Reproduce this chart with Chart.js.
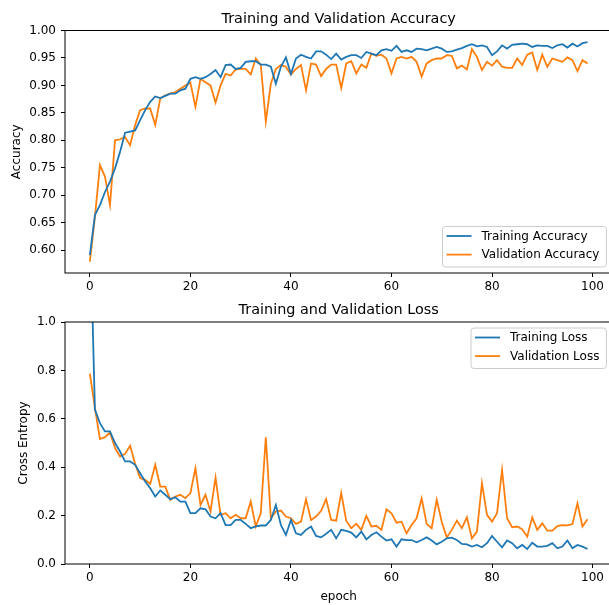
<!DOCTYPE html>
<html><head><meta charset="utf-8">
<script src="https://cdn.jsdelivr.net/npm/chart.js@4.4.0/dist/chart.umd.min.js"></script>
<style>
html,body{margin:0;padding:0;overflow:hidden;background:#fff;width:609px;height:605px;}
#wrap{position:relative;width:609px;height:605px;overflow:hidden;}
#c1{position:absolute;left:0;top:0;}
#c2{position:absolute;left:0;top:300px;}
</style></head><body>
<div id="wrap">
<canvas id="c1" width="620" height="300"></canvas>
<canvas id="c2" width="620" height="305"></canvas>
</div>
<script>
const epochs = Array.from({length:100}, (_, i) => i);
const epochTicks = [0, 20, 40, 60, 80, 100];
const accTicks = [0.60, 0.65, 0.70, 0.75, 0.80, 0.85, 0.90, 0.95, 1.00];
const lossTicks = [0.0, 0.2, 0.4, 0.6, 0.8, 1.0];

const trainAcc = [
0.591,0.664,0.682,0.706,0.725,0.749,0.779,0.814,0.816,0.818,
0.837,0.855,0.870,0.880,0.877,0.881,0.885,0.885,0.891,0.894,
0.912,0.915,0.912,0.915,0.921,0.928,0.915,0.937,0.938,0.930,
0.932,0.943,0.944,0.944,0.938,0.938,0.934,0.903,0.934,0.951,
0.921,0.949,0.956,0.952,0.949,0.962,0.962,0.956,0.948,0.958,
0.947,0.952,0.955,0.955,0.950,0.961,0.958,0.955,0.964,0.966,
0.963,0.972,0.961,0.964,0.961,0.967,0.966,0.964,0.967,0.970,
0.967,0.961,0.962,0.965,0.968,0.972,0.975,0.971,0.973,0.970,
0.955,0.962,0.973,0.967,0.974,0.975,0.976,0.975,0.970,0.973,
0.972,0.972,0.968,0.973,0.975,0.969,0.976,0.971,0.977,0.979];

const valAcc = [
0.579,0.660,0.755,0.734,0.682,0.800,0.802,0.806,0.791,0.828,
0.855,0.858,0.858,0.828,0.876,0.882,0.885,0.888,0.894,0.900,
0.905,0.861,0.912,0.906,0.900,0.869,0.900,0.921,0.918,0.929,
0.930,0.930,0.920,0.949,0.937,0.834,0.903,0.930,0.937,0.934,
0.920,0.930,0.937,0.891,0.940,0.938,0.917,0.930,0.938,0.938,
0.895,0.940,0.944,0.922,0.938,0.932,0.958,0.954,0.956,0.949,
0.922,0.949,0.952,0.949,0.952,0.943,0.916,0.940,0.946,0.949,
0.949,0.955,0.954,0.931,0.936,0.929,0.966,0.952,0.928,0.943,
0.936,0.946,0.934,0.932,0.932,0.949,0.937,0.956,0.960,0.928,
0.956,0.934,0.949,0.946,0.943,0.951,0.946,0.926,0.946,0.940];

const trainLoss = [
1.450,0.638,0.582,0.548,0.548,0.500,0.465,0.424,0.424,0.410,
0.375,0.341,0.313,0.279,0.304,0.286,0.268,0.276,0.258,0.258,
0.210,0.210,0.230,0.226,0.196,0.189,0.210,0.161,0.161,0.182,
0.182,0.166,0.148,0.155,0.159,0.159,0.182,0.244,0.161,0.120,
0.182,0.127,0.120,0.141,0.155,0.116,0.110,0.125,0.141,0.106,
0.141,0.137,0.130,0.110,0.134,0.102,0.120,0.131,0.113,0.097,
0.102,0.072,0.102,0.099,0.099,0.090,0.099,0.110,0.097,0.081,
0.092,0.106,0.109,0.099,0.083,0.081,0.072,0.079,0.069,0.086,
0.116,0.092,0.069,0.097,0.086,0.065,0.079,0.062,0.088,0.072,
0.072,0.075,0.086,0.065,0.072,0.097,0.065,0.079,0.072,0.062];

const valLoss = [
0.787,0.645,0.516,0.524,0.544,0.479,0.444,0.455,0.489,0.414,
0.355,0.348,0.331,0.410,0.320,0.320,0.265,0.279,0.286,0.272,
0.293,0.396,0.244,0.286,0.217,0.357,0.203,0.210,0.189,0.203,
0.189,0.189,0.258,0.155,0.210,0.524,0.189,0.217,0.221,0.196,
0.189,0.166,0.175,0.268,0.182,0.196,0.220,0.268,0.182,0.179,
0.293,0.179,0.148,0.166,0.141,0.199,0.155,0.158,0.141,0.226,
0.209,0.171,0.175,0.127,0.161,0.189,0.271,0.166,0.148,0.265,
0.175,0.110,0.141,0.179,0.148,0.193,0.106,0.134,0.334,0.203,
0.175,0.210,0.389,0.189,0.152,0.155,0.144,0.113,0.193,0.141,
0.168,0.138,0.138,0.157,0.161,0.160,0.165,0.251,0.155,0.185];

const BLUE = '#1f77b4', ORANGE = '#ff7f0e';
const FONT = '"DejaVu Sans", "Liberation Sans", sans-serif';

function roundRect(ctx, x, y, w, h, r) {
  ctx.beginPath();
  ctx.moveTo(x + r, y);
  ctx.lineTo(x + w - r, y); ctx.arcTo(x + w, y, x + w, y + r, r);
  ctx.lineTo(x + w, y + h - r); ctx.arcTo(x + w, y + h, x + w - r, y + h, r);
  ctx.lineTo(x + r, y + h); ctx.arcTo(x, y + h, x, y + h - r, r);
  ctx.lineTo(x, y + r); ctx.arcTo(x, y, x + r, y, r);
  ctx.closePath();
}

function decor(opts) {
  return {
    id: 'decor',
    afterDraw(chart) {
      const ctx = chart.ctx, a = chart.chartArea;
      ctx.save();
      // spines
      ctx.strokeStyle = '#000'; ctx.lineWidth = 1;
      ctx.strokeRect(a.left, a.top, a.right - a.left, a.bottom - a.top);
      // title
      ctx.fillStyle = '#000';
      ctx.font = '14.4px ' + FONT;
      ctx.textAlign = 'center'; ctx.textBaseline = 'alphabetic';
      ctx.fillText(opts.title, (a.left + a.right) / 2, a.top - 8);
      // y title
      ctx.font = '12px ' + FONT;
      ctx.save();
      ctx.translate(opts.yTitleX, (a.top + a.bottom) / 2);
      ctx.rotate(-Math.PI / 2);
      ctx.textAlign = 'center'; ctx.textBaseline = 'alphabetic';
      ctx.fillText(opts.yTitle, 0, 0);
      ctx.restore();
      // x title
      if (opts.xTitle) {
        ctx.textAlign = 'center'; ctx.textBaseline = 'alphabetic';
        ctx.fillText(opts.xTitle, (a.left + a.right) / 2, a.bottom + opts.xTitleDy);
      }
      // legend
      const names = chart.data.datasets.map(d => d.label);
      const colors = chart.data.datasets.map(d => d.borderColor);
      ctx.font = '12px ' + FONT;
      const tw = Math.max(...names.map(n => ctx.measureText(n).width));
      const bw = 39 + tw + 7, bh = 40.5;
      const bx = a.right - 6 - bw;
      const by = opts.legendLoc === 'lower' ? a.bottom - 6 - bh : a.top + 6;
      roundRect(ctx, bx, by, bw, bh, 3);
      ctx.fillStyle = 'rgba(255,255,255,0.8)'; ctx.fill();
      ctx.strokeStyle = '#cccccc'; ctx.lineWidth = 1; ctx.stroke();
      names.forEach((n, i) => {
        const yy = by + 9.5 + i * 18.6;
        ctx.strokeStyle = colors[i]; ctx.lineWidth = 1.8;
        ctx.beginPath(); ctx.moveTo(bx + 4, yy); ctx.lineTo(bx + 29, yy); ctx.stroke();
        ctx.fillStyle = '#000'; ctx.textAlign = 'left'; ctx.textBaseline = 'middle';
        ctx.fillText(n, bx + 39, yy + 0.5);
      });
      ctx.restore();
    }
  };
}

function makeChart(id, cfg) {
  const ds = (label, data, color) => ({label, data, borderColor: color, backgroundColor: color,
    borderWidth: 1.8, pointRadius: 0, pointHoverRadius: 0, fill: false, tension: 0});
  return new Chart(document.getElementById(id), {
    type: 'line',
    data: {labels: epochs, datasets: [ds(cfg.names[0], cfg.train, BLUE), ds(cfg.names[1], cfg.val, ORANGE)]},
    options: {
      responsive: false, animation: false, devicePixelRatio: 1,
      layout: {padding: {top: cfg.padTop, left: 0, right: 620 - 612.4, bottom: 0}},
      plugins: {legend: {display: false}, title: {display: false}, tooltip: {enabled: false}},
      events: [],
      scales: {
        x: {
          type: 'linear', min: -4.95, max: 103.95,
          afterBuildTicks: s => { s.ticks = epochTicks.map(v => ({value: v})); },
          afterFit: s => { s.height = cfg.xh; },
          grid: {display: true, drawOnChartArea: false, drawTicks: true, tickLength: 4, tickColor: '#000', tickWidth: 1},
          border: {display: false},
          ticks: {font: {family: FONT, size: 12}, color: '#000', padding: 3, maxRotation: 0, autoSkip: false,
                  callback: v => String(v)}
        },
        y: {
          min: cfg.ymin, max: cfg.ymax,
          afterBuildTicks: s => { s.ticks = cfg.yTicks.map(v => ({value: v})); },
          afterFit: s => { s.width = 65; },
          grid: {display: true, drawOnChartArea: false, drawTicks: true, tickLength: 4, tickColor: '#000', tickWidth: 1},
          border: {display: false},
          ticks: {font: {family: FONT, size: 12}, color: '#000', padding: 5, autoSkip: false,
                  callback: v => Number(v).toFixed(cfg.dec)}
        }
      }
    },
    plugins: [decor(cfg.decor)]
  });
}

makeChart('c1', {
  names: ['Training Accuracy', 'Validation Accuracy'], train: trainAcc, val: valAcc,
  padTop: 30.5, xh: 300 - 273, ymin: 0.5585, ymax: 1.0, yTicks: accTicks, dec: 2,
  decor: {title: 'Training and Validation Accuracy', yTitle: 'Accuracy', yTitleX: 20, legendLoc: 'lower'}
});
makeChart('c2', {
  names: ['Training Loss', 'Validation Loss'], train: trainLoss, val: valLoss,
  padTop: 22, xh: 305 - 264, ymin: 0, ymax: 1.0, yTicks: lossTicks, dec: 1,
  decor: {title: 'Training and Validation Loss', yTitle: 'Cross Entropy', yTitleX: 26.5, legendLoc: 'upper',
          xTitle: 'epoch', xTitleDy: 35.5}
});
</script>
</body></html>
